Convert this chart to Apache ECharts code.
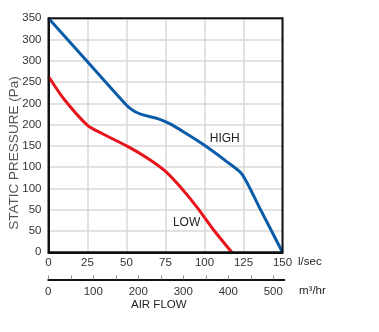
<!DOCTYPE html>
<html><head><meta charset="utf-8">
<script src="https://cdn.jsdelivr.net/npm/echarts@6/dist/echarts.min.js"></script>
<style>html,body{margin:0;padding:0;background:#fff}#c{width:379px;height:332px}</style>
</head><body><div id="c"></div>
<script>
// Data (x: air flow l/sec, y: static pressure Pa)
var highX = [0, 25, 50, 55, 60, 70, 78, 88, 100, 114, 124, 135, 150];
var highY = [350, 285, 220, 211, 206, 200, 192, 178, 160, 136, 117, 68, 0];
var lowX = [0, 10, 25, 34, 51, 64, 74.5, 84, 95, 106, 117.5];
var lowY = [263, 229, 190, 178, 158, 140, 122, 99, 68, 33, 0];
var yTickLabels = ['0', '50', '50', '100', '100', '150', '200', '200', '250', '300', '300', '350'];
var xTickLabels = ['0', '25', '50', '75', '100', '125', '150'];
var x2TickLabels = ['0', '100', '200', '300', '400', '500'];
var seriesNames = ['HIGH', 'LOW'];
var notePos = { HIGH: [113, 170], LOW: [88.5, 45] };

var yMax = 350, ySteps = 11, yInt = yMax / ySteps;
function pairs(xs, ys) { return xs.map(function (x, i) { return [x, ys[i]]; }); }
var txt = '#333';
var font = 'Liberation Sans, Arial, sans-serif';

var chart = echarts.init(document.getElementById('c'), null, { renderer: 'canvas' });
chart.setOption({
  animation: false,
  textStyle: { fontFamily: font },
  grid: [
    { left: 48.5, top: 18.3, width: 234, height: 234, show: true, borderColor: '#111', borderWidth: 2, z: 5 },
    { left: 48.3, top: 278.3, width: 236, height: 1 }
  ],
  xAxis: [
    {
      gridIndex: 0, type: 'value', min: 0, max: 150, interval: 25,
      axisLine: { show: true, onZero: false, lineStyle: { color: '#111', width: 2 } },
      axisTick: { show: false },
      splitLine: { show: true, lineStyle: { color: '#d9d9d9', width: 1.5 } },
      axisLabel: { color: txt, fontSize: 11.5, margin: 5, fontFamily: font,
        formatter: function (v) { return xTickLabels[Math.round(v / 25)]; } },
      name: 'l/sec', nameLocation: 'end', nameGap: 0,
      nameTextStyle: { color: '#222', fontSize: 11.5, fontFamily: font, align: 'left', verticalAlign: 'top', padding: [4, 0, 0, 15] }
    },
    {
      gridIndex: 1, type: 'value', min: 0, max: 524.4, interval: 50,
      axisLine: { show: true, onZero: false, lineStyle: { color: '#111', width: 2 } },
      axisTick: { show: true, inside: true, length: 4, lineStyle: { color: '#999', width: 1 } },
      splitLine: { show: false },
      axisLabel: { color: txt, fontSize: 11.5, margin: 7, fontFamily: font, showMaxLabel: false,
        formatter: function (v) { var i = Math.round(v / 100); return (Math.abs(v - i * 100) < 1e-6) ? x2TickLabels[i] : ''; } },
      name: 'AIR FLOW', nameLocation: 'middle', nameGap: 19,
      nameTextStyle: { color: '#222', fontSize: 11.5, fontFamily: font, padding: [0, 0, 0, -15] }
    }
  ],
  yAxis: [
    {
      gridIndex: 0, type: 'value', min: 0, max: yMax, interval: yInt,
      axisLine: { show: true, lineStyle: { color: '#111', width: 2 } },
      axisTick: { show: false },
      splitLine: { show: true, lineStyle: { color: '#d9d9d9', width: 1.5 } },
      axisLabel: { color: txt, fontSize: 11.5, margin: 7, fontFamily: font,
        formatter: function (v) { return yTickLabels[Math.round(v / yInt)]; } }
    },
    { gridIndex: 1, type: 'value', show: false }
  ],
  graphic: [
    { type: 'text', left: 299, top: 285, style: { text: 'm³/hr', fill: '#222', fontSize: 11.5, fontFamily: font } },
    { type: 'text', x: 14, y: 153, rotation: Math.PI / 2,
      style: { text: 'STATIC PRESSURE (Pa)', fill: '#555', fontSize: 13.5, fontFamily: font, align: 'center', verticalAlign: 'middle' } }
  ],
  series: [
    {
      name: seriesNames[0], type: 'line', xAxisIndex: 0, yAxisIndex: 0, smooth: 0.25, showSymbol: false,
      data: pairs(highX, highY), lineStyle: { color: '#0a5ca8', width: 3 }, z: 3,
      markPoint: { symbol: 'circle', symbolSize: 0, silent: true,
        label: { show: true, formatter: seriesNames[0], color: '#222', fontSize: 12, fontFamily: font, position: 'inside' },
        data: [{ coord: notePos.HIGH }] }
    },
    {
      name: seriesNames[1], type: 'line', xAxisIndex: 0, yAxisIndex: 0, smooth: 0.25, showSymbol: false,
      data: pairs(lowX, lowY), lineStyle: { color: '#e8141c', width: 3 }, z: 3,
      markPoint: { symbol: 'circle', symbolSize: 0, silent: true,
        label: { show: true, formatter: seriesNames[1], color: '#222', fontSize: 12, fontFamily: font, position: 'inside' },
        data: [{ coord: notePos.LOW }] }
    }
  ]
});
</script></body></html>
